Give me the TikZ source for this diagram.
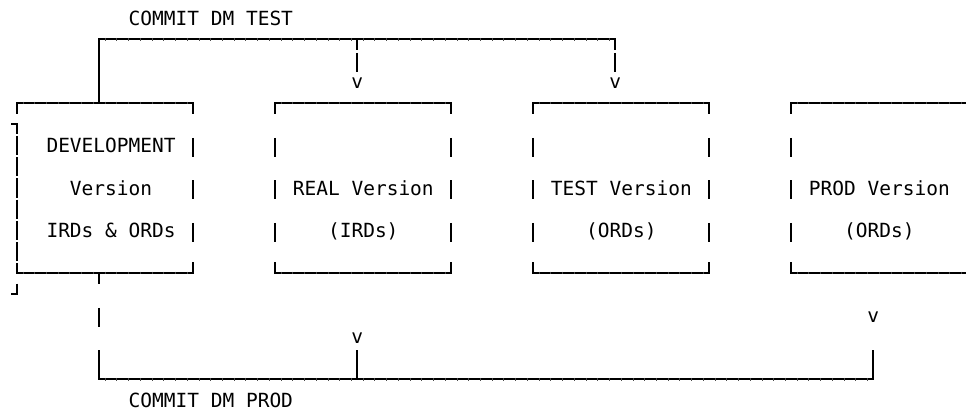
\documentclass[tikz,border=0pt]{standalone}
\usepackage{fontspec}
\setmonofont{DejaVu Sans Mono}
\newcommand\mypipe[2]{\draw[ln] (#1,#2-0.36) -- (#1,#2+0.54);}
\newcommand\myticks[3]{\foreach \k in {#2,...,#3} {\draw[tk] (\k+0.5,#1-0.06) -- (\k+0.5,#1+0.06);}}
\begin{document}
\begin{tikzpicture}[x=11.73pt,y=-21.25pt,
  ln/.style={line width=1.7pt, line cap=butt, line join=miter},
  tk/.style={line width=0.6pt, black!70},
  lbl/.style={font=\fontsize{19.5}{21}\selectfont\ttfamily, inner sep=0pt, anchor=base west},
  arr/.style={font=\fontsize{19.5}{21}\selectfont\ttfamily, inner sep=0pt, anchor=base}]
\useasboundingbox[fill=white] (-1.449,-0.847) rectangle (80.904,18.682);

% ---- labels ----
\node[lbl] (ctest) at (9.5,0.334) {COMMIT DM TEST};
\node[lbl] (dev1)  at (2.5,6.334) {DEVELOPMENT};
\node[lbl] (dev2)  at (4.5,8.334) {Version};
\node[lbl] (dev3)  at (2.5,10.334) {IRDs \& ORDs};
\node[lbl] (real1) at (23.5,8.334) {REAL Version};
\node[lbl] (real2) at (26.5,10.334) {(IRDs)};
\node[lbl] (test1) at (45.5,8.334) {TEST Version};
\node[lbl] (test2) at (48.5,10.334) {(ORDs)};
\node[lbl] (prod1) at (67.5,8.334) {PROD Version};
\node[lbl] (prod2) at (70.5,10.334) {(ORDs)};
\node[lbl] (cprod) at (9.5,18.334) {COMMIT DM PROD};

% ---- arrow heads (printed as v) ----
\node[arr] (vreal) at (29,3.334) {v};
\node[arr] (vtest) at (51,3.334) {v};
\node[arr] (vprod) at (73,14.334) {v};
\node[arr] (vbot)  at (29,15.334) {v};

% ---- named points ----
\coordinate (devT) at (7,4);
\coordinate (tl) at (7,1);
\coordinate (tm) at (29,1);
\coordinate (tr) at (51,1);
\coordinate (devB) at (7,12);
\coordinate (bl) at (7,17);
\coordinate (bm) at (29,17);
\coordinate (br) at (73,17);

% ---- box 1 (DEVELOPMENT) ----
\draw[ln] (0,4.5) -- (0,4) -- (15,4) -- (15,4.5);
\draw[ln] (-0.5,5) -- (0,5) -- (0,5.45);
\foreach \r in {6,...,11} \draw[ln] (0,\r-0.45) -- (0,\r+0.45);
\draw[ln] (0,11.55) -- (0,12) -- (15,12) -- (15,11.5);
\draw[ln] (0,12.5) -- (0,13) -- (-0.5,13);
\foreach \r in {6,8,10} {\mypipe{15}{\r}}
\myticks{4}{0}{14}
\myticks{12}{0}{14}

% ---- boxes 2 and 3 ----
\foreach \a/\b in {22/37,44/59} {
  \draw[ln] (\a,4.5) -- (\a,4) -- (\b,4) -- (\b,4.5);
  \draw[ln] (\a,11.5) -- (\a,12) -- (\b,12) -- (\b,11.5);
  \foreach \r in {6,8,10} {\mypipe{\a}{\r}\mypipe{\b}{\r}}
}
\myticks{4}{22}{36}
\myticks{12}{22}{36}
\myticks{4}{44}{58}
\myticks{12}{44}{58}
% ---- box 4 (cut at right edge) ----
\draw[ln] (66,4.5) -- (66,4) -- (81.5,4);
\draw[ln] (66,11.5) -- (66,12) -- (81.5,12);
\foreach \r in {6,8,10} {\mypipe{66}{\r}}
\myticks{4}{66}{80}
\myticks{12}{66}{80}

% ---- COMMIT DM TEST connector ----
\draw[ln] (devT) -- (tl) -- (tr) -- ([yshift=-0.5*21.25pt]tr);
\draw[ln] (tm) -- ([yshift=-0.5*21.25pt]tm);
\mypipe{29}{2}
\mypipe{51}{2}
\myticks{1}{7}{50}

% ---- COMMIT DM PROD connector ----
\draw[ln] (devB) -- ([yshift=-0.5*21.25pt]devB);
\mypipe{7}{14}
\draw[ln] (7,16-0.36) -- (bl) -- (br) -- (73,16-0.36);
\draw[ln] (bm) -- (29,16-0.36);
\myticks{17}{7}{72}
\end{tikzpicture}
\end{document}
